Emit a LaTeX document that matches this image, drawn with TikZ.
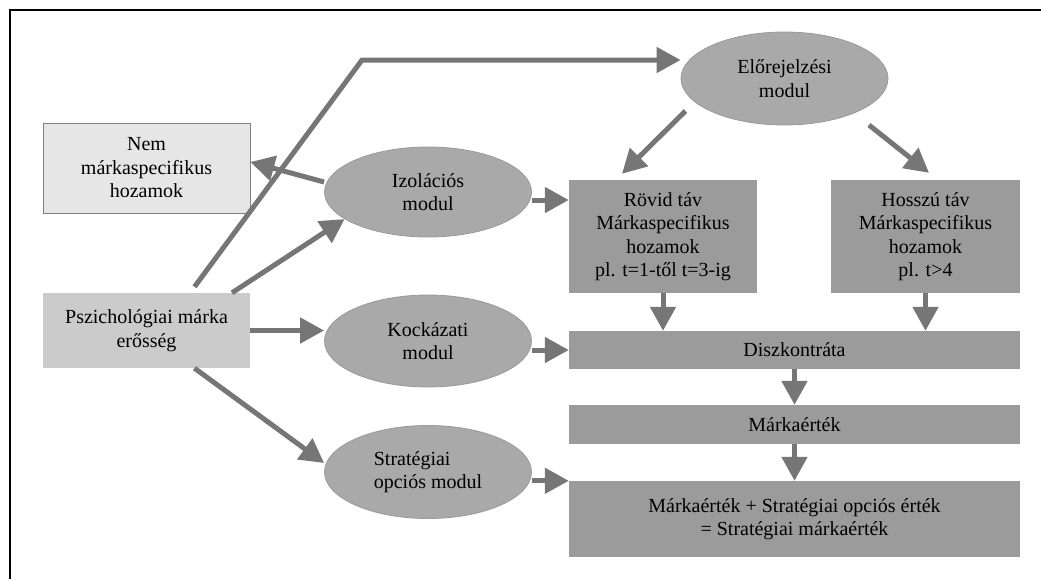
\documentclass[tikz,border=0pt]{standalone}
\usepackage{fontspec}
\setmainfont{Liberation Serif}
\usetikzlibrary{arrows.meta,shapes.geometric,calc}
\definecolor{arrowgray}{HTML}{767676}
\definecolor{ellfill}{HTML}{A9A9A9}
\definecolor{ellline}{HTML}{9A9A9A}
\definecolor{boxdark}{HTML}{9B9B9B}
\definecolor{boxmid}{HTML}{CBCBCB}
\definecolor{boxlight}{HTML}{E6E6E6}
\tikzset{
  txt/.style={font=\fontsize{20}{23.5}\selectfont, align=center, inner sep=0pt, text=black},
  ell/.style={txt, ellipse, fill=ellfill, draw=ellline, line width=0.8pt},
  darkbox/.style={txt, rectangle, fill=boxdark},
  arr/.style={draw=arrowgray, line width=5pt, -{Triangle[width=25pt,length=24pt]}, arrowgray}
}
\begin{document}
\begin{tikzpicture}[x=1pt,y=-1pt]
\useasboundingbox (0,0) rectangle (1041,579);
\draw[line width=2pt] (10,579) -- (10,10) -- (1041,10);
% nodes
\node[txt, rectangle, fill=boxlight, draw=gray, line width=0.8pt, minimum width=207pt, minimum height=90pt] (nem) at (146.5,168) {Nem\\márkaspecifikus\\hozamok};
\node[txt, rectangle, fill=boxmid, minimum width=207pt, minimum height=75pt] (psz) at (146.5,330.5) {Pszichológiai márka\\erősség};
\node[ell, minimum width=207pt, minimum height=90pt] (izo) at (428,192) {Izolációs\\modul};
\node[ell, minimum width=207pt, minimum height=92pt] (koc) at (428,341) {Kockázati\\modul};
\node[ell, minimum width=207pt, minimum height=93pt, align=left] (str) at (428,472) {Stratégiai\\opciós modul};
\node[ell, minimum width=207pt, minimum height=93pt] (elo) at (784.5,78.5) {Előrejelzési\\modul};
\node[darkbox, minimum width=188pt, minimum height=113pt] (rov) at (663,236.5) {Rövid táv\\Márkaspecifikus\\hozamok\\pl. t=1-től t=3-ig};
\node[darkbox, minimum width=189pt, minimum height=113pt] (hos) at (925.5,236.5) {Hosszú táv\\Márkaspecifikus\\hozamok\\pl. t>4};
\node[darkbox, minimum width=451pt, minimum height=38pt] (dis) at (794.5,350) {Diszkontráta};
\node[darkbox, minimum width=451pt, minimum height=39pt] (mar) at (794.5,424.5) {Márkaérték};
\node[darkbox, minimum width=451pt, minimum height=76pt] (fin) at (794.5,519) {Márkaérték + Stratégiai opciós érték\\= Stratégiai márkaérték};
% connectors
\coordinate (bend) at (362,60);
\draw[arr] ([xshift=48pt,yshift=6pt]psz.north) -- (bend) -- (elo.west |- bend);
\draw[arr] ([yshift=10pt]izo.west) -- ([yshift=6pt]nem.east);
\draw[arr] ([xshift=85.5pt]psz.north) -- (izo.198);
\draw[arr] (psz.east) -- (psz.east -| koc.west);
\draw[arr] ([xshift=48pt]psz.south) -- ([yshift=9pt]str.west);
\draw[arr] ([yshift=-8pt]izo.east) -- ([yshift=-8pt]izo.east -| rov.west);
\draw[arr] ($(elo.center)+(-99,32.5)$) -- ([xshift=-41pt,yshift=6pt]rov.north);
\draw[arr] ($(elo.center)+(84.5,46.5)$) -- ([xshift=3.5pt,yshift=7pt]hos.north);
\draw[arr] (rov.south) -- (rov.south |- dis.north);
\draw[arr] (hos.south) -- (hos.south |- dis.north);
\draw[arr] (koc.east |- dis.west) -- (dis.west);
\draw[arr] (dis.south) -- (mar.north);
\draw[arr] (mar.south) -- (fin.north);
\draw[arr] (str.east |- fin.north west) -- (fin.north west);
\end{tikzpicture}
\end{document}
